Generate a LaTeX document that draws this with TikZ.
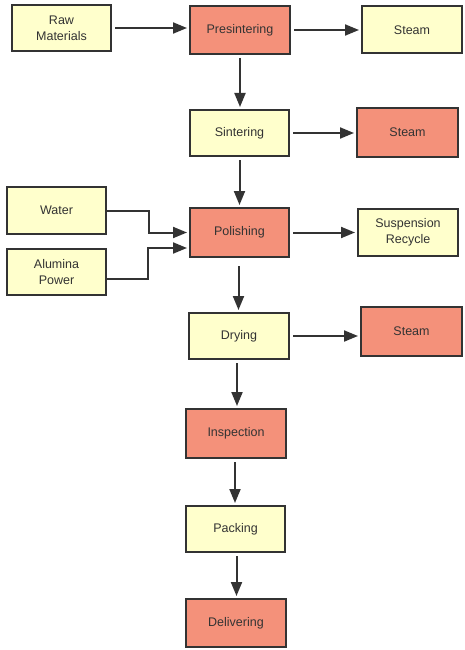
\documentclass[tikz,border=0pt]{standalone}
\usepackage{fontspec}
\setmainfont{Liberation Sans}
\usetikzlibrary{arrows.meta}
\definecolor{yfill}{HTML}{FFFFCC}
\definecolor{rfill}{HTML}{F4917A}
\definecolor{ink}{HTML}{333333}
\begin{document}
\begin{tikzpicture}[x=1pt,y=-1pt,
  box/.style={draw=ink, line width=2pt, text=ink, align=center, inner sep=0pt,
    font=\fontsize{12.5}{16}\selectfont},
  yb/.style={box, fill=yfill},
  rb/.style={box, fill=rfill},
  arr/.style={draw=ink, line width=2pt, -{Triangle[length=14pt,width=11pt]},
    shorten <=3pt, shorten >=2pt}]
\useasboundingbox (0,0) rectangle (465,650);
% nodes
\node[yb, minimum width=99pt, minimum height=46pt] (raw) at (61.5,28) {Raw\\Materials};
\node[rb, minimum width=100pt, minimum height=48pt] (pres) at (240,30) {Presintering};
\node[yb, minimum width=100pt, minimum height=47pt] (steamA) at (412,30) {Steam};
\node[yb, minimum width=99pt, minimum height=46pt] (sint) at (239.5,133) {Sintering};
\node[rb, minimum width=101pt, minimum height=49pt] (steamB) at (407.5,132.5) {Steam};
\node[yb, minimum width=99pt, minimum height=47pt] (water) at (56.5,210.5) {Water};
\node[yb, minimum width=99pt, minimum height=46pt] (alum) at (56.5,272) {Alumina\\Power};
\node[rb, minimum width=99pt, minimum height=49pt] (pol) at (239.5,232.5) {Polishing};
\node[yb, minimum width=100pt, minimum height=47pt] (susp) at (408,232.5) {Suspension\\Recycle};
\node[yb, minimum width=100pt, minimum height=46pt] (dry) at (239,336) {Drying};
\node[rb, minimum width=101pt, minimum height=49pt] (steamC) at (411.5,331.5) {Steam};
\node[rb, minimum width=100pt, minimum height=49pt] (insp) at (236,433.5) {Inspection};
\node[yb, minimum width=99pt, minimum height=46pt] (pack) at (235.5,529) {Packing};
\node[rb, minimum width=100pt, minimum height=48pt] (deliv) at (236,623) {Delivering};
% connectors
\draw[arr] (raw.east) -- (raw.east -| pres.west);
\draw[arr] (pres.east) -- (pres.east -| steamA.west);
\draw[arr] (pres.south) -- (pres.south |- sint.north);
\draw[arr] (sint.east) -- (sint.east -| steamB.west);
\draw[arr] (sint.south) -- (sint.south |- pol.north);
\draw[arr, shorten <=0pt] (water.east) -- ++(42,0) |- (pol.west);
\draw[arr, shorten <=0pt] ([yshift=-7pt]alum.east) -- ++(41,0) |- ([yshift=-15.5pt]pol.west);
\draw[arr] (pol.east) -- (pol.east -| susp.west);
\draw[arr, shorten <=8pt] ([xshift=-1pt]pol.south) -- ([xshift=-1pt]pol.south |- dry.north);
\draw[arr] (dry.east) -- (dry.east -| steamC.west);
\draw[arr] ([xshift=-2pt]dry.south) -- ([xshift=-2pt]dry.south |- insp.north);
\draw[arr] ([xshift=-1pt]insp.south) -- ([xshift=-1pt]insp.south |- pack.north);
\draw[arr] ([xshift=1pt]pack.south) -- ([xshift=1pt]pack.south |- deliv.north);
\end{tikzpicture}
\end{document}
